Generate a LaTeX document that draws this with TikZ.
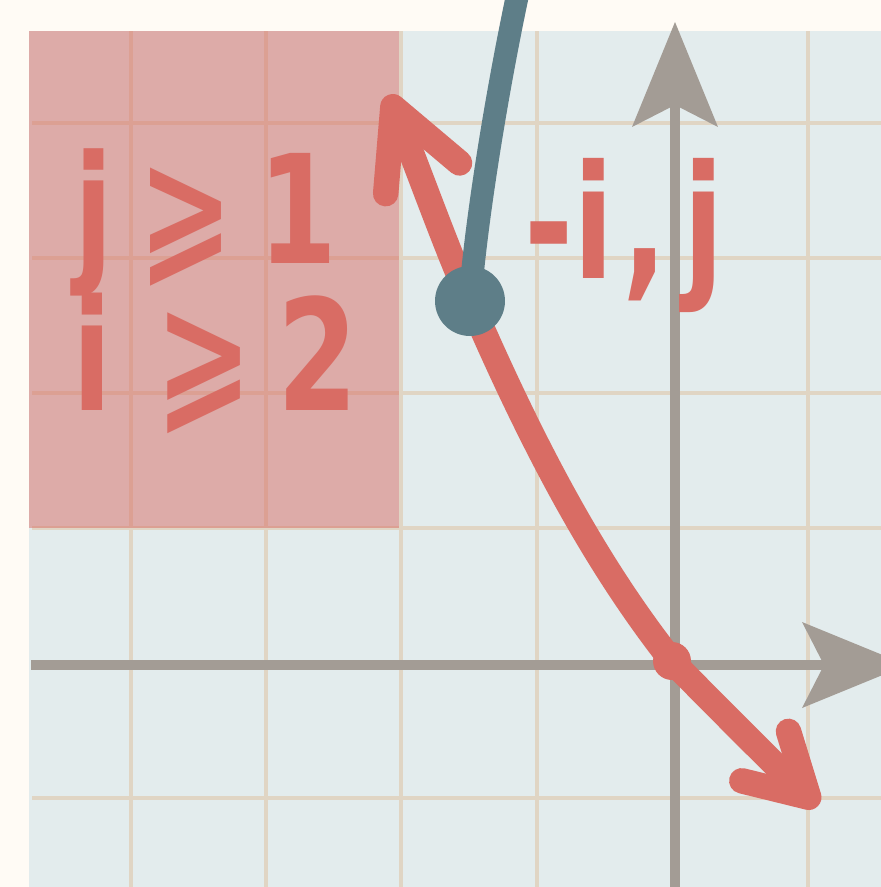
\documentclass[tikz,border=0pt]{standalone}
\usepackage{fontspec}
\usepackage{tikz}
\usetikzlibrary{arrows.meta}
\newfontfamily\handfont[FakeStretch=0.75]{DejaVu Sans}
\definecolor{Cream}{HTML}{FFFBF5}
\definecolor{PaperBlue}{HTML}{E3ECED}
\definecolor{GridTan}{HTML}{E0D5C4}
\definecolor{AxisGray}{HTML}{A39C95}
\definecolor{MarkerRed}{HTML}{D96C64}
\definecolor{SlateBlue}{HTML}{5E7E88}

\begin{document}
\begin{tikzpicture}[x=0.02cm, y=-0.02cm, >=Stealth]
        % Page frame, clipped to the sheet
        \useasboundingbox (0,0) rectangle (881,887);
        \clip (0,0) rectangle (881,887);
        \fill[Cream] (0,0) rectangle (881,887);

        % Graph paper with tan grid lines
        \fill[PaperBlue] (29,31) rectangle (881,887);
        \foreach \gx in {131,266,401,537,808}
            \draw[GridTan, line width=2.8pt] (\gx,31) -- (\gx,887);
        \foreach \gy in {123,258,393,528,798}
            \draw[GridTan, line width=2.8pt] (32,\gy) -- (881,\gy);

        % Shaded region in the upper left
        \fill[MarkerRed, opacity=0.5] (29,31) rectangle (399,528);

        % Axes
        \draw[AxisGray, line width=5.7pt, -{Stealth[length=2.1cm, width=1.72cm, inset=0.44cm, line width=0pt]}] 
            (675,887) -- (675,22);
        \draw[AxisGray, line width=5.7pt, -{Stealth[length=2.1cm, width=1.72cm, inset=0.44cm, line width=0pt]}] 
            (31,665) -- (907,665);

        % Marked points
        \coordinate (tipA) at (388,95);
        \coordinate (bluePt) at (470,301);
        \coordinate (redPt) at (672,661);
        \coordinate (tipB) at (818,806);

        % Red curve, arrows at both ends
        \draw[MarkerRed, line width=14.5pt, line cap=round,
              {Straight Barb[length=1.55cm, width=1.6cm, round]}-{Straight Barb[length=1.2cm, width=1.36cm, round]}]
            (tipA) .. controls (415,160) and (445,245) .. (bluePt)
            .. controls (540,463) and (602,572) .. (redPt)
            .. controls (705,695) and (782,772) .. (tipB);
        \fill[MarkerRed] (redPt) circle (0.38cm);

        % Blue branch coming down from the top
        \draw[SlateBlue, line width=13pt, line cap=round] 
            (519,-12) .. controls (495,100) and (475,230) .. (bluePt);
        \fill[SlateBlue] (bluePt) circle (0.7cm);

        % Hand-written labels
        \node[anchor=base west, inner sep=0pt, MarkerRed, font=\handfont\bfseries\fontsize{86}{86}\selectfont] 
            (condJ) at (74,263) {j\,⩾\,1};
        \node[anchor=base west, inner sep=0pt, MarkerRed, font=\handfont\bfseries\fontsize{88}{88}\selectfont] 
            (condI) at (72,410) {i\;⩾\,2};
        \node[anchor=base west, inner sep=0pt, MarkerRed, font=\handfont\bfseries\fontsize{90}{90}\selectfont] 
            (pointLbl) at (524,278) {-i\kern0.05em,\kern0.1em j};
\end{tikzpicture}
\end{document}
